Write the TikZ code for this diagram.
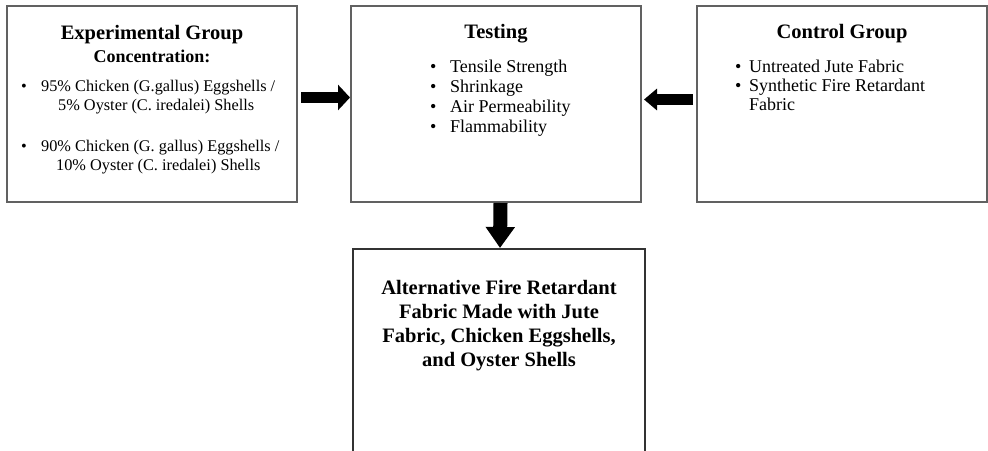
\documentclass[tikz,border=0pt]{standalone}
\usepackage{fontspec}
\setmainfont{Liberation Serif}
\usetikzlibrary{arrows.meta,positioning}

\begin{document}
\begin{tikzpicture}[
  x=1pt,y=1pt,
  group box/.style={draw=black!62,line width=1.1pt,minimum width=290pt,
    minimum height=196pt,inner sep=0pt,outer sep=0pt},
  box title/.style={font=\fontsize{20.5}{23.7}\selectfont\bfseries,
    inner sep=0pt,anchor=base,align=center},
  item list/.style={font=\fontsize{18}{20}\selectfont,align=left,
    inner sep=0pt,anchor=base west},
  fat arrow/.style={-{Triangle[length=12pt,width=25pt]},line width=11pt}
]
\useasboundingbox (0,0) rectangle (988,-450);

% top row: experimental group, testing, control group
\node[group box,anchor=north west] (exp) at (7,-6) {};
\node[group box,right=54pt of exp] (test) {};
\node[group box,right=56pt of test] (ctrl) {};
\node[group box,draw=black!80,minimum width=292pt,minimum height=208pt,
  below=47pt of test,xshift=3pt] (result) {};

% experimental group (multi-line nodes sit on their last baseline)
\node[box title] (exp-title) at ([yshift=-33pt]exp.north) {Experimental Group};
\node[box title,font=\fontsize{18}{20}\selectfont\bfseries] (exp-conc)
  at ([yshift=-56pt]exp.north) {Concentration:};
\node[item list,font=\fontsize{16.3}{19}\selectfont] (exp-list)
  at ([xshift=14pt,yshift=-164pt]exp.north west) {
  \makebox[20pt][l]{\textbullet}95\% Chicken (G.gallus) Eggshells /\\
  \hspace*{37pt}5\% Oyster (C. iredalei) Shells\\[22pt]
  \makebox[20pt][l]{\textbullet}90\% Chicken (G. gallus) Eggshells /\\
  \hspace*{35pt}10\% Oyster (C. iredalei) Shells
};

% testing
\node[box title] (test-title) at ([yshift=-32pt]test.north) {Testing};
\node[item list] (test-list) at ([xshift=79pt,yshift=-126pt]test.north west) {
  \makebox[20pt][l]{\textbullet}Tensile Strength\\
  \makebox[20pt][l]{\textbullet}Shrinkage\\
  \makebox[20pt][l]{\textbullet}Air Permeability\\
  \makebox[20pt][l]{\textbullet}Flammability
};

% control group
\node[box title] (ctrl-title) at ([yshift=-32pt]ctrl.north) {Control Group};
\node[item list,font=\fontsize{18}{19}\selectfont] (ctrl-list)
  at ([xshift=38pt,yshift=-104pt]ctrl.north west) {
  \makebox[14pt][l]{\textbullet}Untreated Jute Fabric\\
  \makebox[14pt][l]{\textbullet}Synthetic Fire Retardant\\
  \hspace*{14pt}Fabric
};

% outcome
\node[box title] (result-title) at ([yshift=-117pt]result.north) {
  Alternative Fire Retardant\\
  Fabric Made with Jute\\
  Fabric, Chicken Eggshells,\\
  and Oyster Shells
};

\draw[fat arrow] ([xshift=4pt,yshift=6.5pt]exp.east) -- ([xshift=-1pt,yshift=6.5pt]test.west);
\draw[fat arrow,-{Triangle[length=13pt,width=21pt]}]
  ([xshift=-4pt,yshift=4.5pt]ctrl.west) -- ([xshift=3pt,yshift=4.5pt]test.east);
\draw[fat arrow,-{Triangle[length=21pt,width=28pt]},line width=14pt]
  ([xshift=4.5pt,yshift=-1pt]test.south) -- ([xshift=1pt,yshift=1pt]result.north);

\end{tikzpicture}
\end{document}
